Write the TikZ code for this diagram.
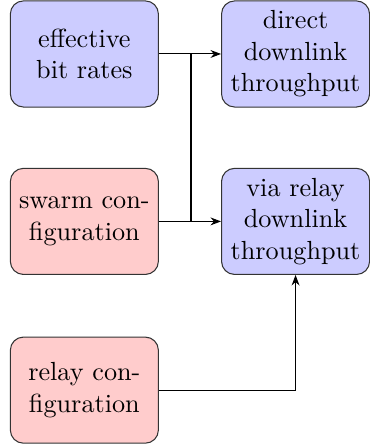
\documentclass[tikz,border=0pt]{standalone}
\usepackage{xcolor}
\usepackage{tikz}
\usetikzlibrary{arrows.meta}

\begin{document}
\begin{tikzpicture}[>={Stealth[length=4pt,width=3pt]},
	blk/.style={draw=black!80, rounded corners=5pt, align=center,
		minimum width=56.5pt, minimum height=40.5pt, inner sep=2pt},
	outblk/.style={blk, fill=blue!20},
	inblk/.style={blk, fill=red!20}]
% page size of the reference
\useasboundingbox (0,0) rectangle (141.2pt,-170.6pt);

\node[outblk] (effrate)  at (32.2pt,-20.6pt)  {effective\\bit rates};
\node[outblk] (direct)   at (112.8pt,-20.6pt) {direct\\downlink\\throughput};
\node[inblk]  (swarm)    at (32.2pt,-84.5pt)  {swarm con-\\figuration};
\node[outblk] (viarelay) at (112.8pt,-84.5pt) {via relay\\downlink\\throughput};
\node[inblk]  (relaycfg) at (32.2pt,-148.9pt) {relay con-\\figuration};

\coordinate (join) at (72.9pt,0);

\draw[->] (effrate.east) -- (direct.west);
\draw[->] (swarm.east) -- (viarelay.west);
\draw (effrate.east -| join) -- (swarm.east -| join);
\draw[->] (relaycfg.east) -| (viarelay.south);

\end{tikzpicture}
\end{document}
